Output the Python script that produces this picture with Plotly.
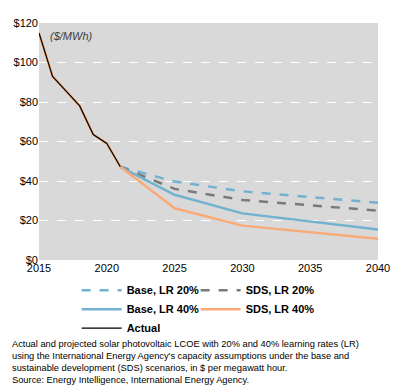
import plotly.graph_objects as go

actual_years = [2015, 2016, 2017, 2018, 2019, 2020, 2021]
actual_vals = [115, 93, 85.5, 78, 63.5, 59, 47.2]

proj_years = [2021, 2025, 2030, 2035, 2040]
base_lr20 = [47.2, 39.7, 34.8, 31.8, 29.0]
sds_lr20 = [47.2, 36.0, 30.4, 27.6, 25.0]
base_lr40 = [47.2, 33.0, 23.6, 19.6, 15.4]
sds_lr40 = [47.2, 26.2, 17.4, 14.0, 10.8]

y_ticks = [0, 20, 40, 60, 80, 100, 120]
y_labels = ["$0", "$20", "$40", "$60", "$80", "$100", "$120"]
x_ticks = [2015, 2020, 2025, 2030, 2035, 2040]

BLUE = "#72b2d0"
GRAY = "#7a7a7a"
ORANGE = "#f8aa78"

fig = go.Figure()
fig.add_trace(go.Scatter(x=proj_years, y=base_lr20, mode="lines", name="Base, LR 20%",
                         line=dict(color=BLUE, width=2.5, dash="dash")))
fig.add_trace(go.Scatter(x=proj_years, y=sds_lr20, mode="lines", name="SDS, LR 20%",
                         line=dict(color=GRAY, width=2.5, dash="dash")))
fig.add_trace(go.Scatter(x=proj_years, y=base_lr40, mode="lines", name="Base, LR 40%",
                         line=dict(color=BLUE, width=2.5)))
fig.add_trace(go.Scatter(x=actual_years + proj_years[1:], y=actual_vals + sds_lr40[1:], mode="lines",
                         name="SDS, LR 40%", line=dict(color=ORANGE, width=2.5)))
fig.add_trace(go.Scatter(x=actual_years, y=actual_vals, mode="lines", name="Actual",
                         line=dict(color="black", width=1.2)))

fig.update_layout(
    width=399, height=387,
    margin=dict(l=39, r=21, t=23, b=127, autoexpand=False),
    paper_bgcolor="white",
    plot_bgcolor="#d9d9d9",
    font=dict(family="Liberation Sans, Arial, sans-serif", size=11, color="black"),
    xaxis=dict(range=[2015, 2040], tickvals=x_ticks, showgrid=False, zeroline=False,
               showline=False, ticks="", tickfont=dict(size=11)),
    yaxis=dict(range=[0, 120], tickvals=y_ticks, ticktext=y_labels, showgrid=True,
               gridcolor="white", griddash="dash", gridwidth=1, zeroline=False,
               ticks="", tickfont=dict(size=11)),
    legend=dict(orientation="h", x=0.111, xanchor="left", y=-0.066, yanchor="top",
                entrywidth=64, entrywidthmode="pixels", traceorder="normal",
                font=dict(size=11, color="black", weight="bold"), bgcolor="rgba(0,0,0,0)",
                itemwidth=40, tracegroupgap=0),
    showlegend=True,
)

fig.add_annotation(x=0.027, y=0.98, xref="paper", yref="paper", xanchor="left", yanchor="top",
                   text="<i>($/MWh)</i>", showarrow=False, font=dict(size=11, color="#404040"))

caption = ("Actual and projected solar photovoltaic LCOE with 20% and 40% learning rates (LR)<br>"
           "using the International Energy Agency's capacity assumptions under the base and<br>"
           "sustainable development (SDS) scenarios, in $ per megawatt hour.<br>"
           "Source: Energy Intelligence, International Energy Agency.")
fig.add_annotation(x=-0.0855, y=-0.325, xref="paper", yref="paper", xanchor="left", yanchor="top",
                   text=caption, showarrow=False, align="left",
                   font=dict(size=9.3, color="black"))

fig.write_html("out.html", config={"displayModeBar": False},
               post_script="document.body.style.margin='0';")
